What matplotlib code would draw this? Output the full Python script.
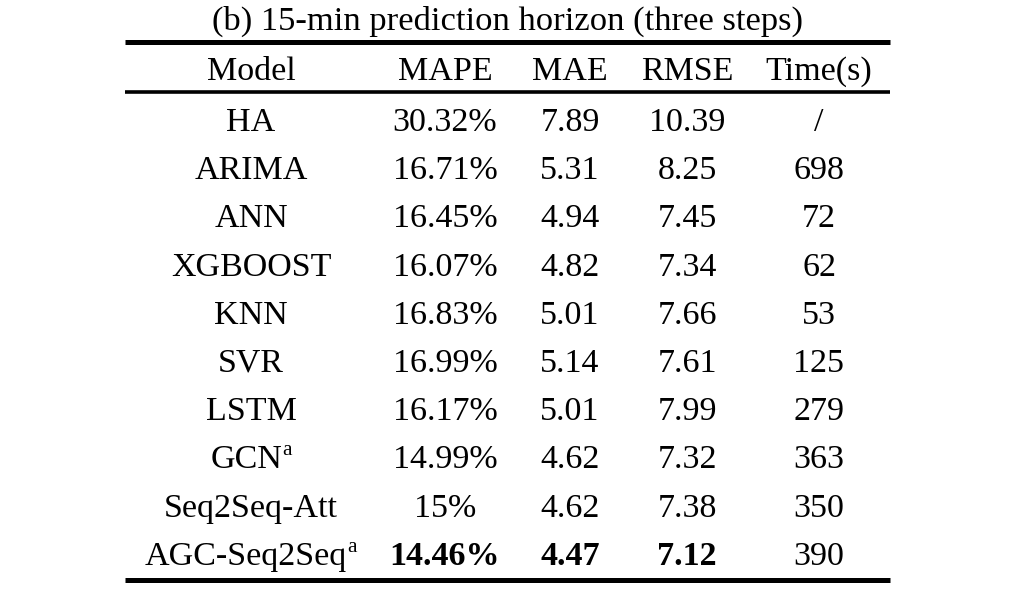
import matplotlib.pyplot as plt

plt.rcParams["font.family"] = ["Liberation Serif", "DejaVu Serif"]

TITLE = "(b) 15-min prediction horizon (three steps)"
HEADERS = ["Model", "MAPE", "MAE", "RMSE", "Time(s)"]
MODELS = ["HA", "ARIMA", "ANN", "XGBOOST", "KNN", "SVR", "LSTM",
          "GCN", "Seq2Seq-Att", "AGC-Seq2Seq"]
MODEL_SUP = ["", "", "", "", "", "", "", "a", "", "a"]
MAPE = ["30.32%", "16.71%", "16.45%", "16.07%", "16.83%", "16.99%",
        "16.17%", "14.99%", "15%", "14.46%"]
MAE = ["7.89", "5.31", "4.94", "4.82", "5.01", "5.14", "5.01", "4.62", "4.62", "4.47"]
RMSE = ["10.39", "8.25", "7.45", "7.34", "7.66", "7.61", "7.99", "7.32", "7.38", "7.12"]
TIME = ["/", "698", "72", "62", "53", "125", "279", "363", "350", "390"]
BEST_ROW = 9  # bold for MAPE/MAE/RMSE

W, H = 1014, 589
fig = plt.figure(figsize=(W / 100, H / 100), dpi=100)
ax = fig.add_axes([0, 0, 1, 1])
ax.set_xlim(0, W)
ax.set_ylim(H, 0)
ax.axis("off")

FS = 24.5
SUP_FS = 15.5
col_x = [251, 445, 570, 687, 819]
# baselines (pixels from top)
title_y = 30
header_y = 80
row_y0, row_dy = 131, 48.2

ax.text(508, title_y, TITLE, ha="center", va="baseline", fontsize=24.8)

# rules
for y, lw in [(41.5, 3.6), (91.5, 2.6), (579.5, 3.6)]:
    ax.plot([125, 890], [y, y], color="black", lw=lw, solid_capstyle="butt")

for x, h in zip(col_x, HEADERS):
    ax.text(x, header_y, h, ha="center", va="baseline", fontsize=FS)

columns = [MODELS, MAPE, MAE, RMSE, TIME]
for r in range(len(MODELS)):
    y = row_y0 + r * row_dy
    for c, col in enumerate(columns):
        bold = (r == BEST_ROW and c in (1, 2, 3))
        x = col_x[c]
        if c == 0 and MODEL_SUP[r]:
            x -= 5
        t = ax.text(x, y, col[r], ha="center", va="baseline", fontsize=FS,
                    fontweight="bold" if bold else "normal")
        if c == 0 and MODEL_SUP[r]:
            # superscript just right of the name, a little below cap height
            ax.annotate(MODEL_SUP[r], xy=(1, 0), xycoords=t, xytext=(0.5, 20),
                        textcoords="offset pixels", ha="left", va="baseline",
                        fontsize=SUP_FS)

fig.savefig("out.png", dpi=100)
